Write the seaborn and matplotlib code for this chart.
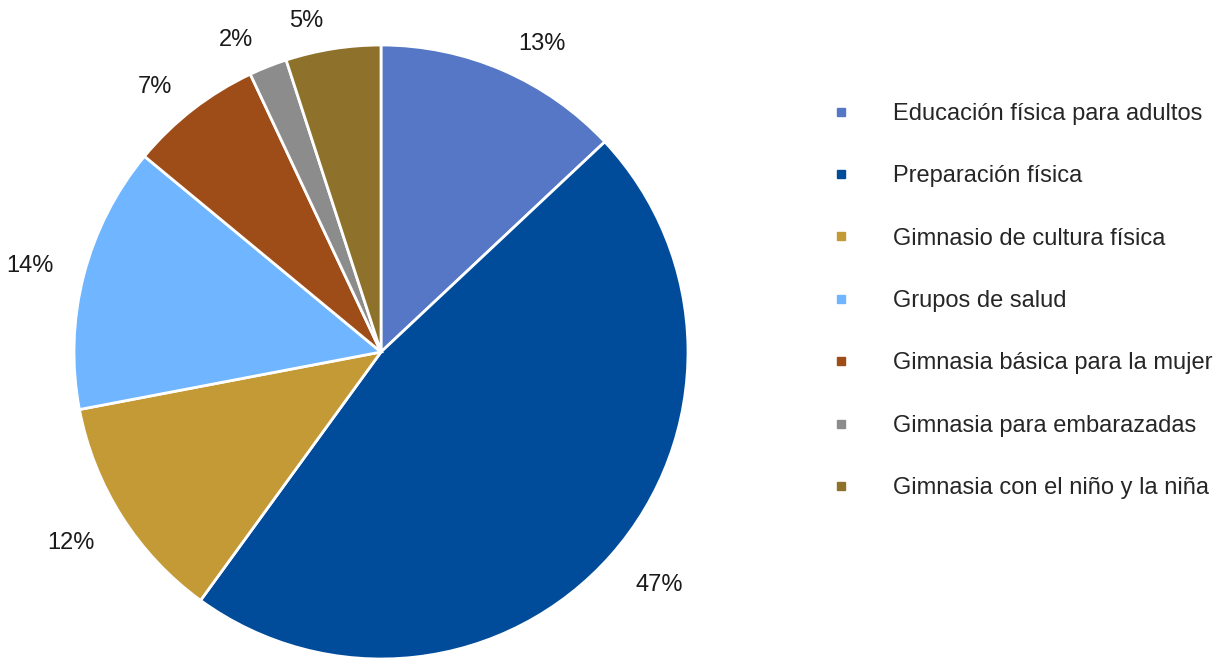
import matplotlib
matplotlib.use('Agg')
import numpy as np
import matplotlib.pyplot as plt
from matplotlib.lines import Line2D
import seaborn as sns

# Data
categories = ['Educación física para adultos', 'Preparación física', 'Gimnasio de cultura física',
              'Grupos de salud', 'Gimnasia básica para la mujer', 'Gimnasia para embarazadas',
              'Gimnasia con el niño y la niña']
shares = [13, 47, 12, 14, 7, 2, 5]
colors = ['#5577C5', '#004C9A', '#C49A36', '#6FB5FF', '#9E4D19', '#8C8C8C', '#8E712A']

sns.set_style('white')
plt.rcParams['font.family'] = ['Liberation Sans', 'DejaVu Sans']
palette = sns.color_palette(colors)

fig = plt.figure(figsize=(12.27, 6.58), dpi=100)
ax = fig.add_axes([74 / 1227, -1 / 658, 614 / 1227, 614 / 658])

wedges, texts, autotexts = ax.pie(
    shares, colors=palette, startangle=90, counterclock=False,
    autopct='%1.0f%%', pctdistance=1.1, radius=1,
    wedgeprops=dict(edgecolor='white', linewidth=2),
    textprops=dict(fontsize=17, color='#1a1a1a'))
ax.set_xlim(-1, 1)
ax.set_ylim(-1, 1)
ax.set_aspect('equal')
ax.axis('off')

# Excel-style outside labels: the label corner nearest the pie sits on a ring just outside the rim
renderer = fig.canvas.get_renderer()
r_px = ax.get_window_extent(renderer).width / 2
font_px = 17 * fig.dpi / 72
for w, t in zip(wedges, autotexts):
    ang = np.deg2rad((w.theta1 + w.theta2) / 2)
    bb = t.get_window_extent(renderer)
    half_w = (bb.width / 2 + 6) / r_px
    half_h = 0.36 * font_px / r_px
    cx = 1.08 * np.cos(ang) + np.sign(np.cos(ang)) * half_w
    cy = 1.08 * np.sin(ang) + np.sign(np.sin(ang)) * half_h - 5 / r_px
    t.set_position((cx, cy))
    t.set_ha('center')
    t.set_va('center')

handles = [Line2D([0], [0], marker='s', linestyle='none', markersize=6,
                  markerfacecolor=c, markeredgecolor=c) for c in palette]
fig.legend(handles, categories, loc='upper left', bbox_to_anchor=(829 / 1227, 1 - 103 / 658),
           frameon=False, fontsize=17, handlelength=1.0, handletextpad=1.71,
           labelspacing=1.71, borderaxespad=0, borderpad=0)

fig.savefig('out.png', dpi=100)
